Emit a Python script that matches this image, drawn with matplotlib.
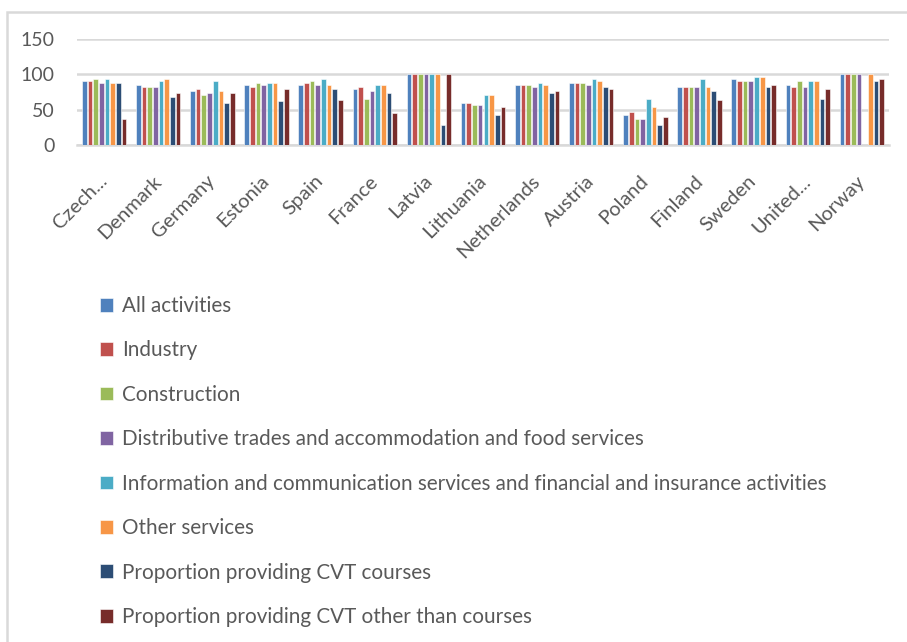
import numpy as np
import matplotlib.pyplot as plt
import matplotlib.transforms as mtransforms
from matplotlib.patches import Rectangle

countries = ["Czech...", "Denmark", "Germany", "Estonia", "Spain", "France", "Latvia",
             "Lithuania", "Netherlands", "Austria", "Poland", "Finland", "Sweden",
             "United...", "Norway"]

series_names = [
    "All activities",
    "Industry",
    "Construction",
    "Distributive trades and accommodation and food services",
    "Information and communication services and financial and insurance activities",
    "Other services",
    "Proportion providing CVT courses",
    "Proportion providing CVT other than courses",
]

all_activities = [91, 85, 76, 85, 85, 79, 100, 59, 85, 88, 43, 82, 93, 85, 100]
industry = [91, 82, 79, 82, 88, 82, 100, 59, 85, 88, 46, 82, 91, 82, 100]
construction = [93, 82, 71, 88, 91, 65, 100, 57, 85, 88, 37, 82, 91, 91, 100]
distributive = [88, 82, 74, 85, 85, 76, 100, 57, 82, 85, 37, 82, 91, 82, 100]
info_comm = [93, 91, 91, 88, 93, 85, 100, 71, 88, 93, 65, 93, 96, 91, np.nan]
other_services = [88, 93, 76, 88, 85, 85, 100, 71, 85, 91, 54, 82, 96, 91, 100]
cvt_courses = [88, 68, 59, 62, 79, 74, 29, 43, 74, 82, 29, 76, 82, 65, 91]
cvt_other = [37, 74, 74, 79, 63, 45, 100, 54, 76, 79, 40, 63, 85, 79, 93]

series = [all_activities, industry, construction, distributive,
          info_comm, other_services, cvt_courses, cvt_other]
colors = ["#4F81BD", "#C0504D", "#9BBB59", "#8064A2",
          "#4BACC6", "#F79646", "#2C4D75", "#772C2A"]

W, H = 907, 642
fig = plt.figure(figsize=(W / 100, H / 100), dpi=100)
plt.rcParams["font.family"] = ["Lato", "DejaVu Sans"]
text_col = "#595959"
grid_col = "#D9D9D9"

# chart area frame
fig.patches.append(Rectangle((7 / W, -0.1), 1.1, 1 - 12 / H + 0.1,
                             transform=fig.transFigure, fill=False,
                             edgecolor=grid_col, lw=1.8, zorder=0))

ax = fig.add_axes([77 / W, (H - 145) / H, (889 - 77) / W, 106 / H])

n = len(series)
slot = 0.84 / n
x = np.arange(len(countries))
for i, (vals, c) in enumerate(zip(series, colors)):
    offs = (i - (n - 1) / 2) * slot
    ax.bar(x + offs, vals, width=slot * 0.82, color=c, edgecolor="white",
           linewidth=0.4, label=series_names[i], zorder=3)

ax.set_xlim(-0.5, len(countries) - 0.5)
ax.set_ylim(0, 150)
ax.set_yticks([0, 50, 100, 150])
ax.yaxis.grid(True, color=grid_col, lw=1.8)
ax.set_axisbelow(True)
for s in ["top", "right", "left"]:
    ax.spines[s].set_visible(False)
ax.spines["bottom"].set_color(grid_col)
ax.spines["bottom"].set_linewidth(1.8)
ax.tick_params(axis="both", length=0, colors=text_col, labelsize=14)
ax.tick_params(axis="y", pad=16)
ax.tick_params(axis="x", pad=24)
ax.set_xticks(x)
ax.set_xticklabels(countries, rotation=45, ha="right", va="center",
                   rotation_mode="anchor", fontsize=14.5)
shift = mtransforms.ScaledTranslation(0, 0, fig.dpi_scale_trans)
for lab in ax.get_xticklabels():
    lab.set_transform(lab.get_transform() + shift)

fig.legend(loc="upper left", bbox_to_anchor=(100 / W, 1 - 296 / H),
           frameon=False, fontsize=14.9, labelcolor=text_col,
           handlelength=0.65, handleheight=0.65, handletextpad=0.4,
           labelspacing=1.18, borderaxespad=0, borderpad=0)

fig.savefig("out.png", dpi=100)
